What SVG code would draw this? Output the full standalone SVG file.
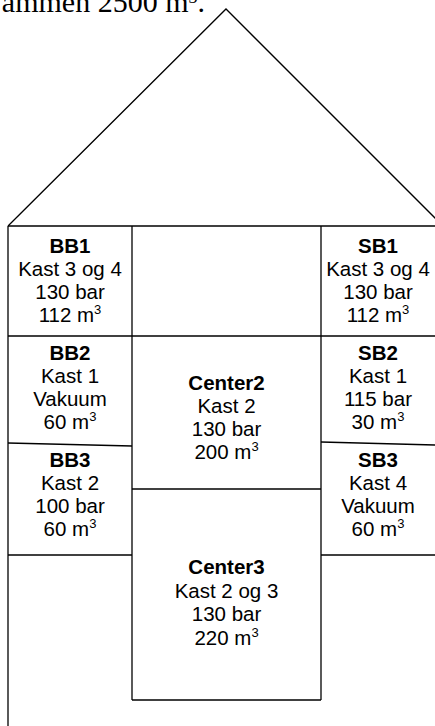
<svg xmlns="http://www.w3.org/2000/svg" width="435" height="726" viewBox="0 0 435 726">
<style>
.ln{stroke:#000;stroke-width:1.3;fill:none}
.t{font-family:"Liberation Sans",Arial,sans-serif;font-size:20.5px;text-anchor:middle;fill:#000}
.b{font-weight:bold}
.sup{font-size:13px}
.top{font-family:"Liberation Serif","Times New Roman",serif;font-size:30px;fill:#000}
</style>
<rect width="435" height="726" fill="#fff"/>
<text class="top" x="205" y="12" text-anchor="end">ammen 2500 m<tspan font-size="18px" dy="-9">3</tspan><tspan dy="9">.</tspan></text>
<g id="connectors">
<path class="ln" d="M8,226 L226,9 L444,227"/>
<path class="ln" d="M8,226 H435"/>
<path class="ln" d="M8,226 V726"/>
<path class="ln" d="M132,226 V700"/>
<path class="ln" d="M321,226 V700"/>
<path class="ln" d="M8,336 H435"/>
<path class="ln" d="M8,443 L132,446"/>
<path class="ln" d="M321,442 L435,445"/>
<path class="ln" d="M132,489 H321"/>
<path class="ln" d="M8,555 H132"/>
<path class="ln" d="M321,555 H435"/>
<path class="ln" d="M132,700 H321"/>
</g>
<g id="BB1"><text class="t" x="70" y="253"><tspan class="b" x="70">BB1</tspan><tspan x="70" dy="23">Kast 3 og 4</tspan><tspan x="70" dy="23">130 bar</tspan><tspan x="70" dy="23">112 m</tspan><tspan class="sup" dy="-8">3</tspan></text></g>
<g id="SB1"><text class="t" x="378" y="253"><tspan class="b" x="378">SB1</tspan><tspan x="378" dy="23">Kast 3 og 4</tspan><tspan x="378" dy="23">130 bar</tspan><tspan x="378" dy="23">112 m</tspan><tspan class="sup" dy="-8">3</tspan></text></g>
<g id="BB2"><text class="t" x="70" y="360"><tspan class="b" x="70">BB2</tspan><tspan x="70" dy="23">Kast 1</tspan><tspan x="70" dy="23">Vakuum</tspan><tspan x="70" dy="23">60 m</tspan><tspan class="sup" dy="-8">3</tspan></text></g>
<g id="SB2"><text class="t" x="378" y="360"><tspan class="b" x="378">SB2</tspan><tspan x="378" dy="23">Kast 1</tspan><tspan x="378" dy="23">115 bar</tspan><tspan x="378" dy="23">30 m</tspan><tspan class="sup" dy="-8">3</tspan></text></g>
<g id="BB3"><text class="t" x="70" y="467"><tspan class="b" x="70">BB3</tspan><tspan x="70" dy="23">Kast 2</tspan><tspan x="70" dy="23">100 bar</tspan><tspan x="70" dy="23">60 m</tspan><tspan class="sup" dy="-8">3</tspan></text></g>
<g id="SB3"><text class="t" x="378" y="467"><tspan class="b" x="378">SB3</tspan><tspan x="378" dy="23">Kast 4</tspan><tspan x="378" dy="23">Vakuum</tspan><tspan x="378" dy="23">60 m</tspan><tspan class="sup" dy="-8">3</tspan></text></g>
<g id="Center2"><text class="t" x="226.5" y="390"><tspan class="b" x="226.5">Center2</tspan><tspan x="226.5" dy="23">Kast 2</tspan><tspan x="226.5" dy="23">130 bar</tspan><tspan x="226.5" dy="23">200 m</tspan><tspan class="sup" dy="-8">3</tspan></text></g>
<g id="Center3"><text class="t" x="226.5" y="574"><tspan class="b" x="226.5">Center3</tspan><tspan x="226.5" dy="23.5">Kast 2 og 3</tspan><tspan x="226.5" dy="23.5">130 bar</tspan><tspan x="226.5" dy="23.5">220 m</tspan><tspan class="sup" dy="-8">3</tspan></text></g>
</svg>
